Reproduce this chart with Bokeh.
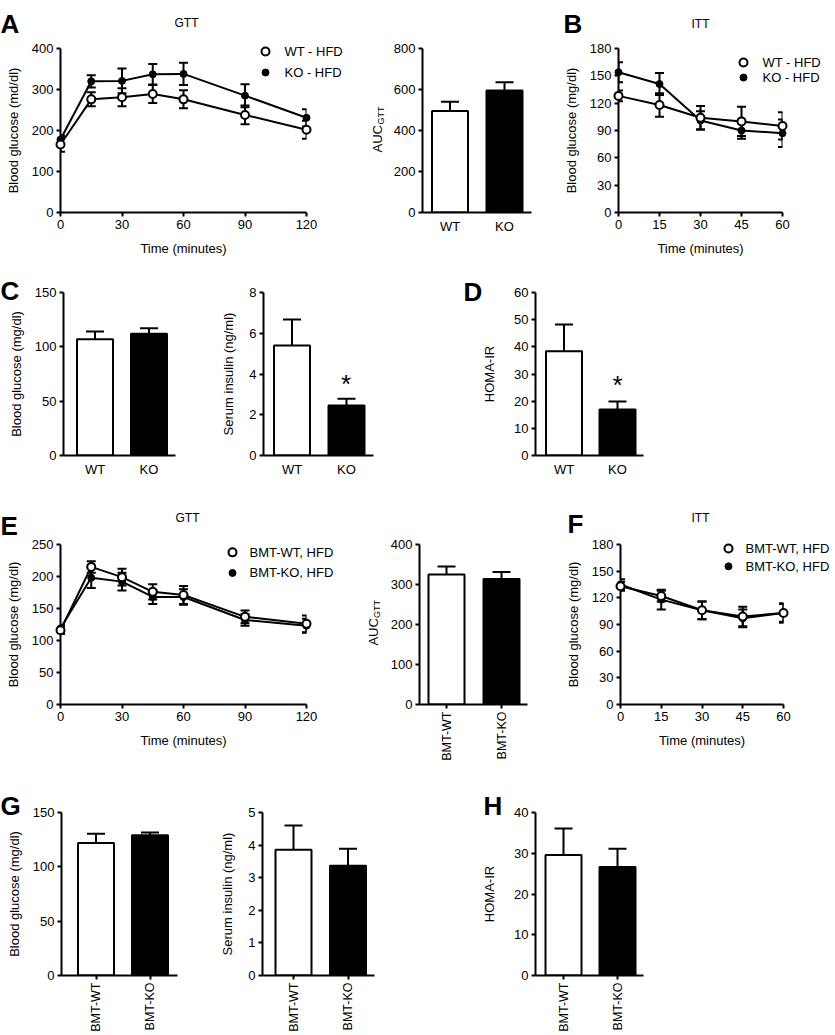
import math
from bokeh.plotting import figure
from bokeh.layouts import column, row
from bokeh.models import Range1d, FixedTicker, Whisker, TeeHead, ColumnDataSource
from bokeh.core.properties import value
from bokeh.embed import file_html
from bokeh.resources import INLINE

FONT = "Liberation Sans"

# ---------------- data ----------------
gtt_time = [0, 15, 30, 45, 60, 90, 120]
itt_time = [0, 15, 30, 45, 60]
gtt_ticks = [0, 30, 60, 90, 120]
itt_ticks = [0, 15, 30, 45, 60]
cats_short = ["WT", "KO"]
cats_bmt = ["BMT-WT", "BMT-KO"]
legend_a = ["WT - HFD", "KO - HFD"]
legend_e = ["BMT-WT, HFD", "BMT-KO, HFD"]

# A: GTT
a_gtt_wt = [166, 276, 281, 289, 276, 238, 202]
a_gtt_wt_err = [18, 17, 22, 22, 22, 23, 22]
a_gtt_ko = [178, 320, 321, 337, 338, 285, 231]
a_gtt_ko_err = [10, 15, 30, 25, 27, 28, 21]
a_auc = [495, 595]
a_auc_err = [45, 40]

# B: ITT
b_itt_wt = [128, 118, 104, 100, 95]
b_itt_wt_err = [6, 13, 13, 16, 15]
b_itt_ko = [154, 141, 101, 90, 87]
b_itt_ko_err = [11, 12, 10, 9, 15]

# C
c_glucose = [107, 112]
c_glucose_err = [7, 5]
c_insulin = [5.4, 2.45]
c_insulin_err = [1.27, 0.33]
# D
d_homa = [38.4, 16.9]
d_homa_err = [9.8, 3.0]

# E
e_gtt_wt = [116, 215, 199, 176, 171, 137, 126]
e_gtt_wt_err = [6, 9, 13, 12, 14, 10, 13]
e_gtt_ko = [119, 198, 192, 168, 168, 132, 123]
e_gtt_ko_err = [5, 16, 14, 11, 12, 9, 11]
e_auc = [325, 314]
e_auc_err = [20, 17]

# F
f_itt_wt = [133, 122, 106, 99, 103]
f_itt_wt_err = [5, 6, 10, 11, 10]
f_itt_ko = [135, 118, 106, 97, 103]
f_itt_ko_err = [6, 11, 10, 10, 11]

# G, H
g_glucose = [122, 129]
g_glucose_err = [8.5, 2.5]
g_insulin = [3.86, 3.37]
g_insulin_err = [0.74, 0.52]
h_homa = [29.6, 26.6]
h_homa_err = [6.5, 4.5]


# ---------------- helpers ----------------
def make_fig(fig_box, frame_box, xr, yr):
    fx, fy, fw, fh = fig_box
    l, t, r, b = frame_box
    p = figure(width=fw, height=fh, x_range=Range1d(*xr), y_range=Range1d(*yr),
               output_backend="svg", toolbar_location=None,
               min_border_left=l - fx, min_border_right=fx + fw - r,
               min_border_top=t - fy, min_border_bottom=fy + fh - b)
    p.outline_line_color = None
    p.xgrid.visible = False
    p.ygrid.visible = False
    p.background_fill_color = "white"
    p.border_fill_color = "white"

    def to_data(px, py):
        x = xr[0] + (px - l) / (r - l) * (xr[1] - xr[0])
        y = yr[0] + (b - py) / (b - t) * (yr[1] - yr[0])
        return x, y
    return p, to_data


def style_axis(ax):
    ax.axis_line_width = 2
    ax.axis_line_color = "black"
    ax.major_tick_line_width = 2
    ax.major_tick_line_color = "black"
    ax.major_tick_out = 4
    ax.major_tick_in = 0
    ax.minor_tick_line_color = None
    ax.major_label_text_font = FONT
    ax.major_label_text_font_size = "13px"
    ax.major_label_text_color = "black"
    ax.major_label_standoff = 3
    ax.axis_label_text_font = FONT
    ax.axis_label_text_font_size = "13px"
    ax.axis_label_text_font_style = "normal"
    ax.axis_label_text_color = "black"


def add_text(p, to_data, px, py, text, size="13px", style="normal",
             align="left", baseline="middle", angle=0.0):
    x, y = to_data(px, py)
    r = p.text(x=[x], y=[y], text=[text], text_font=value(FONT),
               text_font_size=value(size), text_font_style=value(style),
               text_align=value(align), text_baseline=value(baseline),
               angle=angle, text_color="black")
    r.level = "overlay"


def line_panel(fig_box, frame_box, xr, yr, xticks, yticks, time,
               wt, wt_err, ko, ko_err, ylabel, names, leg, leg_size="13px"):
    p, to_data = make_fig(fig_box, frame_box, xr, yr)
    style_axis(p.xaxis[0])
    style_axis(p.yaxis[0])
    p.xaxis.ticker = FixedTicker(ticks=xticks)
    p.yaxis.ticker = FixedTicker(ticks=yticks)
    p.xaxis.axis_label = "Time (minutes)"
    p.xaxis.axis_label_standoff = 9
    p.yaxis.axis_label = ylabel
    p.yaxis.axis_label_standoff = 8
    for vals in (ko, wt):
        p.line(time, vals, line_color="black", line_width=2)
    for vals, errs in ((ko, ko_err), (wt, wt_err)):
        src = ColumnDataSource(dict(x=time,
                                    lo=[v - e for v, e in zip(vals, errs)],
                                    hi=[v + e for v, e in zip(vals, errs)]))
        w = Whisker(source=src, base="x", lower="lo", upper="hi", dimension="height",
                    line_color="black", line_width=2,
                    lower_head=TeeHead(size=9, line_width=2, line_color="black"),
                    upper_head=TeeHead(size=9, line_width=2, line_color="black"),
                    level="annotation")
        p.add_layout(w)
    r1 = p.scatter(time, ko, marker="circle", size=7, fill_color="black",
                   line_color="black", line_width=1)
    r2 = p.scatter(time, wt, marker="circle", size=8, fill_color="white",
                   line_color="black", line_width=2)
    r1.level = "overlay"
    r2.level = "overlay"
    # legend: marker x, text x, row y positions (page px)
    mx, tx, ys = leg
    styles = [dict(size=8, fill_color="white", line_width=2),
              dict(size=7, fill_color="black", line_width=1)]
    for name, st, py in zip(names, styles, ys):
        x, y = to_data(mx, py)
        rr = p.scatter([x], [y], marker="circle", line_color="black", **st)
        rr.level = "overlay"
        add_text(p, to_data, tx, py, name, size=leg_size)
    return p, to_data


def bar_panel(fig_box, frame_box, centers, yr, yticks, vals, errs, cats,
              rotated, ylabel=None, ylabel_standoff=8):
    l, t, r, b = frame_box
    c1, c2 = centers
    pitch = c2 - c1
    x0 = 1 - (c1 - l) / pitch
    x1 = x0 + (r - l) / pitch
    p, to_data = make_fig(fig_box, frame_box, (x0, x1), yr)
    style_axis(p.xaxis[0])
    style_axis(p.yaxis[0])
    xs = [1, 2]
    p.xaxis.ticker = FixedTicker(ticks=xs)
    p.xaxis.major_label_overrides = {1: cats[0], 2: cats[1]}
    if rotated:
        p.xaxis.major_label_orientation = math.pi / 2
        p.xaxis.major_label_text_font_size = "12.5px"
    else:
        p.xaxis.major_tick_out = 0
        p.xaxis.major_label_standoff = 6
    p.yaxis.ticker = FixedTicker(ticks=yticks)
    if ylabel:
        p.yaxis.axis_label = ylabel
        p.yaxis.axis_label_standoff = ylabel_standoff
    p.vbar(x=xs, top=vals, bottom=0, width=36 / pitch,
           fill_color=["white", "black"], line_color="black", line_width=2)
    src = ColumnDataSource(dict(x=xs, lo=vals, hi=[v + e for v, e in zip(vals, errs)]))
    p.add_layout(Whisker(source=src, base="x", lower="lo", upper="hi", dimension="height",
                         line_color="black", line_width=2, lower_head=None,
                         upper_head=TeeHead(size=18, line_width=2, line_color="black"),
                         level="annotation"))
    return p, to_data


def auc_label(p, to_data, x_base, y_start):
    add_text(p, to_data, x_base, y_start, "AUC", size="13px",
             baseline="alphabetic", angle=math.pi / 2)
    add_text(p, to_data, x_base + 3.5, y_start - 28, "GTT", size="9px",
             baseline="alphabetic", angle=math.pi / 2)


LETTER = "26px"

# ---------------- row 1 ----------------
pA, tA = line_panel((0, 0, 350, 262), (60, 48, 306, 212), (0, 120), (0, 400),
                    gtt_ticks, [0, 100, 200, 300, 400], gtt_time,
                    a_gtt_wt, a_gtt_wt_err, a_gtt_ko, a_gtt_ko_err,
                    "Blood glucose (md/dl)", legend_a, (265, 284, (51, 72)))
add_text(pA, tA, 0, 23, "A", size=LETTER, style="bold", baseline="alphabetic")
add_text(pA, tA, 186, 22, "GTT", size="12px", align="center", baseline="alphabetic")

pA2, tA2 = bar_panel((350, 0, 210, 262), (422, 48, 531, 212), (449.5, 504), (0, 800),
                     [0, 200, 400, 600, 800], a_auc, a_auc_err, cats_short, False)
auc_label(pA2, tA2, 377, 152)

pB, tB = line_panel((560, 0, 274, 262), (618, 48, 782, 212), (0, 60), (0, 180),
                    itt_ticks, [0, 30, 60, 90, 120, 150, 180], itt_time,
                    b_itt_wt, b_itt_wt_err, b_itt_ko, b_itt_ko_err,
                    "Blood glucose (mg/dl)", legend_a, (743, 762, (62, 77)))
add_text(pB, tB, 563, 23, "B", size=LETTER, style="bold", baseline="alphabetic")
add_text(pB, tB, 700, 23, "ITT", size="12px", align="center", baseline="alphabetic")

# ---------------- row 2 ----------------
pC1, tC1 = bar_panel((0, 262, 200, 219), (63, 292, 175, 455), (94.5, 148.5), (0, 150),
                     [0, 50, 100, 150], c_glucose, c_glucose_err, cats_short, False,
                     "Blood glucose (mg/dl)", 8)
add_text(pC1, tC1, 0, 290, "C", size=LETTER, style="bold", baseline="alphabetic")

pC2, tC2 = bar_panel((200, 262, 220, 219), (263, 292, 373, 455), (291.5, 346), (0, 8),
                     [0, 2, 4, 6, 8], c_insulin, c_insulin_err, cats_short, False,
                     "Serum insulin (ng/ml)", 10)
add_text(pC2, tC2, 345.5, 383, "*", size="26px", align="center", baseline="alphabetic")

pD, tD = bar_panel((420, 262, 414, 219), (535, 292, 643, 455), (563.5, 617), (0, 60),
                   [0, 10, 20, 30, 40, 50, 60], d_homa, d_homa_err, cats_short, False,
                   "HOMA-IR", 14)
add_text(pD, tD, 463, 291, "D", size=LETTER, style="bold", baseline="alphabetic")
add_text(pD, tD, 617, 384, "*", size="26px", align="center", baseline="alphabetic")

# ---------------- row 3 ----------------
pE, tE = line_panel((0, 481, 350, 282), (60, 542, 306, 705), (0, 120), (0, 250),
                    gtt_ticks, [0, 50, 100, 150, 200, 250], gtt_time,
                    e_gtt_wt, e_gtt_wt_err, e_gtt_ko, e_gtt_ko_err,
                    "Blood glucose (mg/dl)", legend_e, (232, 249, (550, 571)))
add_text(pE, tE, 0, 523, "E", size=LETTER, style="bold", baseline="alphabetic")
add_text(pE, tE, 187, 515, "GTT", size="12px", align="center", baseline="alphabetic")

pE2, tE2 = bar_panel((350, 481, 210, 282), (419, 542, 527, 705), (446, 501), (0, 400),
                     [0, 100, 200, 300, 400], e_auc, e_auc_err, cats_bmt, True)
auc_label(pE2, tE2, 373, 645)

pF, tF = line_panel((560, 481, 274, 282), (620, 544, 783, 705), (0, 60), (0, 180),
                    itt_ticks, [0, 30, 60, 90, 120, 150, 180], itt_time,
                    f_itt_wt, f_itt_wt_err, f_itt_ko, f_itt_ko_err,
                    "Blood glucose (mg/dl)", legend_e, (728, 745, (548, 566)))
add_text(pF, tF, 567, 523, "F", size=LETTER, style="bold", baseline="alphabetic")
add_text(pF, tF, 700, 517, "ITT", size="12px", align="center", baseline="alphabetic")

# ---------------- row 4 ----------------
pG1, tG1 = bar_panel((0, 763, 200, 271), (61, 812, 177, 975), (95.5, 149.5), (0, 150),
                     [0, 50, 100, 150], g_glucose, g_glucose_err, cats_bmt, True,
                     "Blood glucose (mg/dl)", 8)
add_text(pG1, tG1, 0, 805, "G", size=LETTER, style="bold", baseline="alphabetic")

pG2, tG2 = bar_panel((200, 763, 220, 271), (262, 812, 374, 975), (293, 347.5), (0, 5),
                     [0, 1, 2, 3, 4, 5], g_insulin, g_insulin_err, cats_bmt, True,
                     "Serum insulin (ng/ml)", 10)

pH, tH = bar_panel((420, 763, 414, 271), (535, 812, 643, 975), (563, 617), (0, 40),
                   [0, 10, 20, 30, 40], h_homa, h_homa_err, cats_bmt, True,
                   "HOMA-IR", 14)
add_text(pH, tH, 483, 805, "H", size=LETTER, style="bold", baseline="alphabetic")

layout = column(
    row(pA, pA2, pB),
    row(pC1, pC2, pD),
    row(pE, pE2, pF),
    row(pG1, pG2, pH),
)

open("out.html", "w").write(file_html(layout, INLINE))
